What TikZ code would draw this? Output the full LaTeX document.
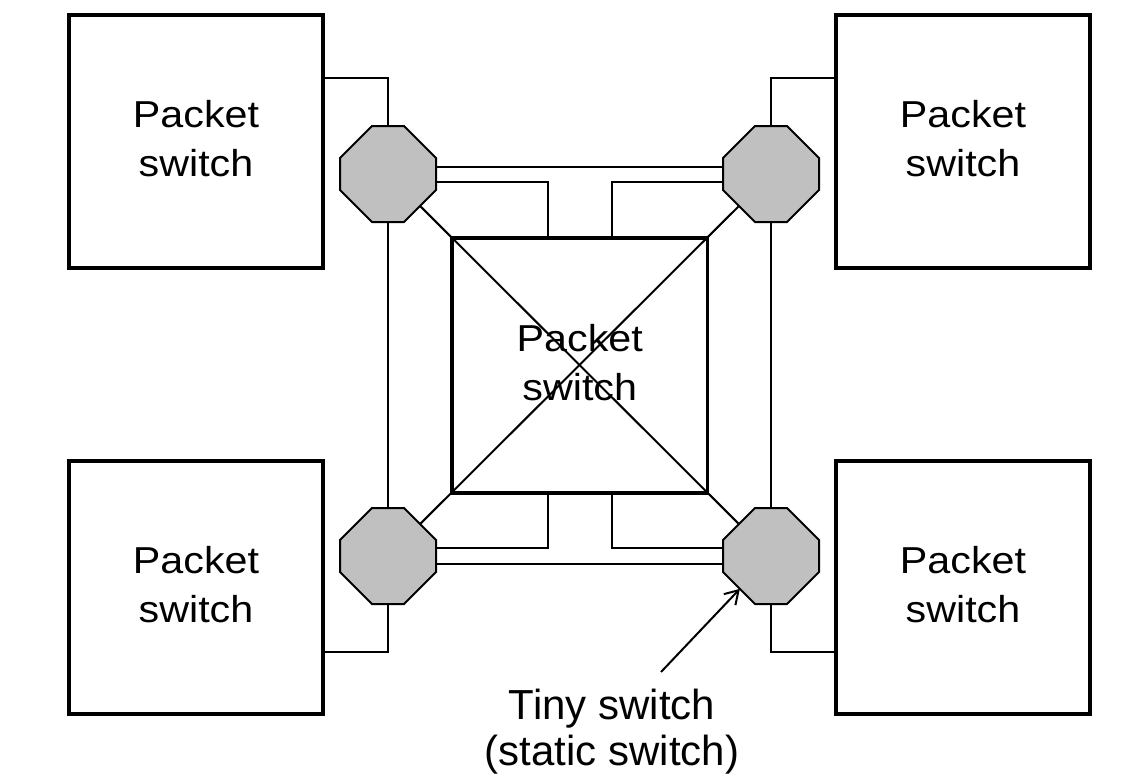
\documentclass[tikz,border=0pt]{standalone}
\usepackage{graphicx}
\usepackage{fontspec}
\setmainfont{Liberation Sans}
\usetikzlibrary{arrows.meta,calc}
\definecolor{octfill}{HTML}{C0C0C0}
\newcommand\hstretch[1]{\scalebox{1.1}[1]{#1}}
\begin{document}
\begin{tikzpicture}[x=1pt,y=-1pt,
  pbox/.style={draw,line width=4pt,minimum width=254pt,minimum height=253pt,inner sep=0pt,
    align=center,font=\fontsize{37.5}{49}\selectfont,text depth=7pt},
  cswitch/.style={pbox,line width=3.5pt,minimum width=255.5pt,minimum height=255pt},
  octcore/.style={circle,minimum size=90.5pt,inner sep=0pt,outer sep=0pt},
  octline/.style={draw,line width=2pt,fill=octfill,line join=miter},
  wire/.style={line width=2pt},
  note/.style={align=center,font=\fontsize{42}{46}\selectfont,inner sep=0pt}]
\useasboundingbox (0,0) rectangle (1143,780);

% packet switches
\node[pbox] (ptl) at (196,141.5) {\hstretch{Packet}\\\hstretch{switch}};
\node[pbox] (ptr) at (963,141.5) {\hstretch{Packet}\\\hstretch{switch}};
\node[pbox] (pbl) at (196,587.5) {\hstretch{Packet}\\\hstretch{switch}};
\node[pbox] (pbr) at (963,587.5) {\hstretch{Packet}\\\hstretch{switch}};

% tiny switches (cores; outlines drawn on top below)
\node[octcore] (tl) at (388,174) {};
\node[octcore] (tr) at (771,174) {};
\node[octcore] (bl) at (388,556) {};
\node[octcore] (br) at (771,556) {};

% diagonals
\draw[wire] (tl) -- (br);
\draw[wire] (tr) -- (bl);

% centre packet switch
\node[cswitch] (cbox) at (579.75,365.5) {\hstretch{Packet}\\\hstretch{switch}};

% box to tiny switch
\draw[wire] ([yshift=63.5pt]ptl.east) -| (tl.north);
\draw[wire] ([yshift=63.5pt]ptr.west) -| (tr.north);
\draw[wire] ([yshift=-64.5pt]pbl.east) -| (bl.south);
\draw[wire] ([yshift=-64.5pt]pbr.west) -| (br.south);

% ring of tiny switches
\draw[wire] (tl.south) -- (bl.north);
\draw[wire] (tr.south) -- (br.north);
\draw[wire] ([yshift=7pt]tl.east) -- ([yshift=7pt]tr.west);
\draw[wire] ([yshift=-8pt]bl.east) -- ([yshift=-8pt]br.west);

% tiny switch to centre switch
\draw[wire] ([yshift=-8pt]tl.east) -| ([xshift=-32pt]cbox.north);
\draw[wire] ([yshift=-8pt]tr.west) -| ([xshift=32pt]cbox.north);
\draw[wire] ([yshift=8pt]bl.east) -| ([xshift=-32pt]cbox.south);
\draw[wire] ([yshift=8pt]br.west) -| ([xshift=32pt]cbox.south);

% octagon outlines
\foreach \n in {tl,tr,bl,br}
  \draw[octline] (\n.center) ++(-16,-48) -- ++(32,0) -- ++(32,32) -- ++(0,32)
    -- ++(-32,32) -- ++(-32,0) -- ++(-32,-32) -- ++(0,-32) -- cycle;

% annotation
\node[note] (tiny) at (612,731.5) {Tiny switch\\(static switch)};
\coordinate (astart) at (661,672);
\draw[wire,-{Straight Barb[length=13pt,width=16pt]}] (astart) -- (br);
\end{tikzpicture}
\end{document}
